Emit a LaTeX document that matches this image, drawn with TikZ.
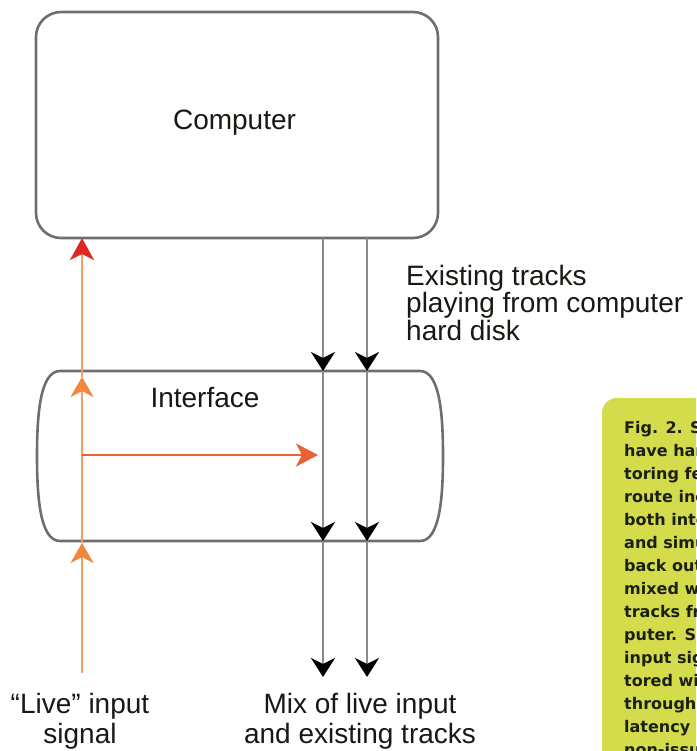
\documentclass[tikz,border=0pt]{standalone}
\usepackage{fontspec}
\setmainfont{Liberation Sans}
\newfontfamily\capfont{DejaVu Sans}
\usetikzlibrary{arrows.meta}
\definecolor{boxgray}{RGB}{108,112,108}
\definecolor{trackgray}{RGB}{135,140,140}
\definecolor{liveorange}{RGB}{242,158,100}
\definecolor{headorange}{RGB}{240,135,60}
\definecolor{headred}{RGB}{222,40,35}
\definecolor{monred}{RGB}{236,96,55}
\definecolor{capyellow}{RGB}{212,220,76}
\definecolor{captext}{RGB}{28,32,20}
\definecolor{labeltext}{RGB}{25,25,20}
\begin{document}
\begin{tikzpicture}[x=1pt,y=-1pt,
  outline/.style={draw=boxgray, line width=2.6pt},
  track/.style={draw=trackgray, line width=2.8pt, -{Stealth[length=19pt,width=24pt,inset=6pt,color=black]}},
  live/.style={draw=liveorange, line width=2.6pt, -{Stealth[length=20pt,width=23pt,inset=6pt,color=headorange]}},
  livetop/.style={draw=liveorange, line width=2.6pt, -{Stealth[length=22pt,width=24pt,inset=6pt,color=headred]}},
  monitor/.style={draw=monred, line width=2.4pt, -{Stealth[length=22pt,width=23pt,inset=6pt,color=monred]}},
  label/.style={font=\fontsize{28}{26}\selectfont, text=labeltext, inner sep=0pt},
  caption/.style={font=\capfont\bfseries\fontsize{16}{23}\selectfont, text=captext, inner sep=0pt, align=left},
]
\useasboundingbox (0,0) rectangle (696,751);
\clip (0,0) rectangle (696,751);
\fill[white] (0,0) rectangle (696,751);

% Computer box
\node[outline, rounded corners=25pt, minimum width=402pt, minimum height=226pt, inner sep=0pt] (computer) at (237,125) {};
\node[label, anchor=base] (computerlabel) at (234.5,130) {Computer};

% Interface outline
\node[minimum width=360pt, minimum height=170pt, inner sep=0pt] (interface) at (240,456) {};
\draw[outline] (60,371) -- (420,371)
  .. controls (440,371) and (443,415) .. (443,456)
  .. controls (443,497) and (440,541) .. (420,541)
  -- (60,541)
  .. controls (40,541) and (37,497) .. (37,456)
  .. controls (37,415) and (40,371) .. (60,371) -- cycle;
\node[label, anchor=base] (interfacelabel) at (205,407) {Interface};

% coordinates
\coordinate (c1) at (323,238);
\coordinate (i1t) at (323,371);
\coordinate (i1b) at (323,541);
\coordinate (o1) at (323,677);
\coordinate (c2) at (367,238);
\coordinate (i2t) at (367,371);
\coordinate (i2b) at (367,541);
\coordinate (o2) at (367,677);
\coordinate (lin) at (82,673);
\coordinate (lb) at (82,543);
\coordinate (lt) at (82,377);
\coordinate (lc) at (82,238);
\coordinate (lm) at (82,455);
\coordinate (mt) at (318,455);

% tracks
\draw[track] (c1) -- (i1t);
\draw[track] (i1t) -- (i1b);
\draw[track] (i1b) -- (o1);
\draw[track] (c2) -- (i2t);
\draw[track] (i2t) -- (i2b);
\draw[track] (i2b) -- (o2);

% live input
\draw[live] (lin) -- (lb);
\draw[live] (lb) -- (lt);
\draw[livetop] (lt) -- (lc);
\draw[monitor] (lm) -- (mt);

% labels (base anchor of a multi-line node = baseline of its last line)
\node[label, anchor=base west, align=left] (existing) at (406,340) {Existing tracks\\playing from computer\\hard disk};
\node[label, anchor=base, align=center, font=\fontsize{28}{30}\selectfont] (livelabel) at (80,743) {“Live” input\\signal};
\node[label, anchor=base, align=center, font=\fontsize{28}{30}\selectfont] (mixlabel) at (360,743) {Mix of live input\\and existing tracks};

% caption box
\fill[capyellow, rounded corners=15pt] (602,800) -- (602,398) -- (760,398) -- (760,800) -- cycle;
\node[caption, anchor=base west] (caption) at (624,755) {Fig. 2. Some\\have hardware\\toring features\\route incoming\\both into\\and simultaneously\\back out\\mixed with\\tracks from\\puter. Since\\input signal\\tored without\\through the\\latency becomes\\non-issue.};
\end{tikzpicture}
\end{document}
